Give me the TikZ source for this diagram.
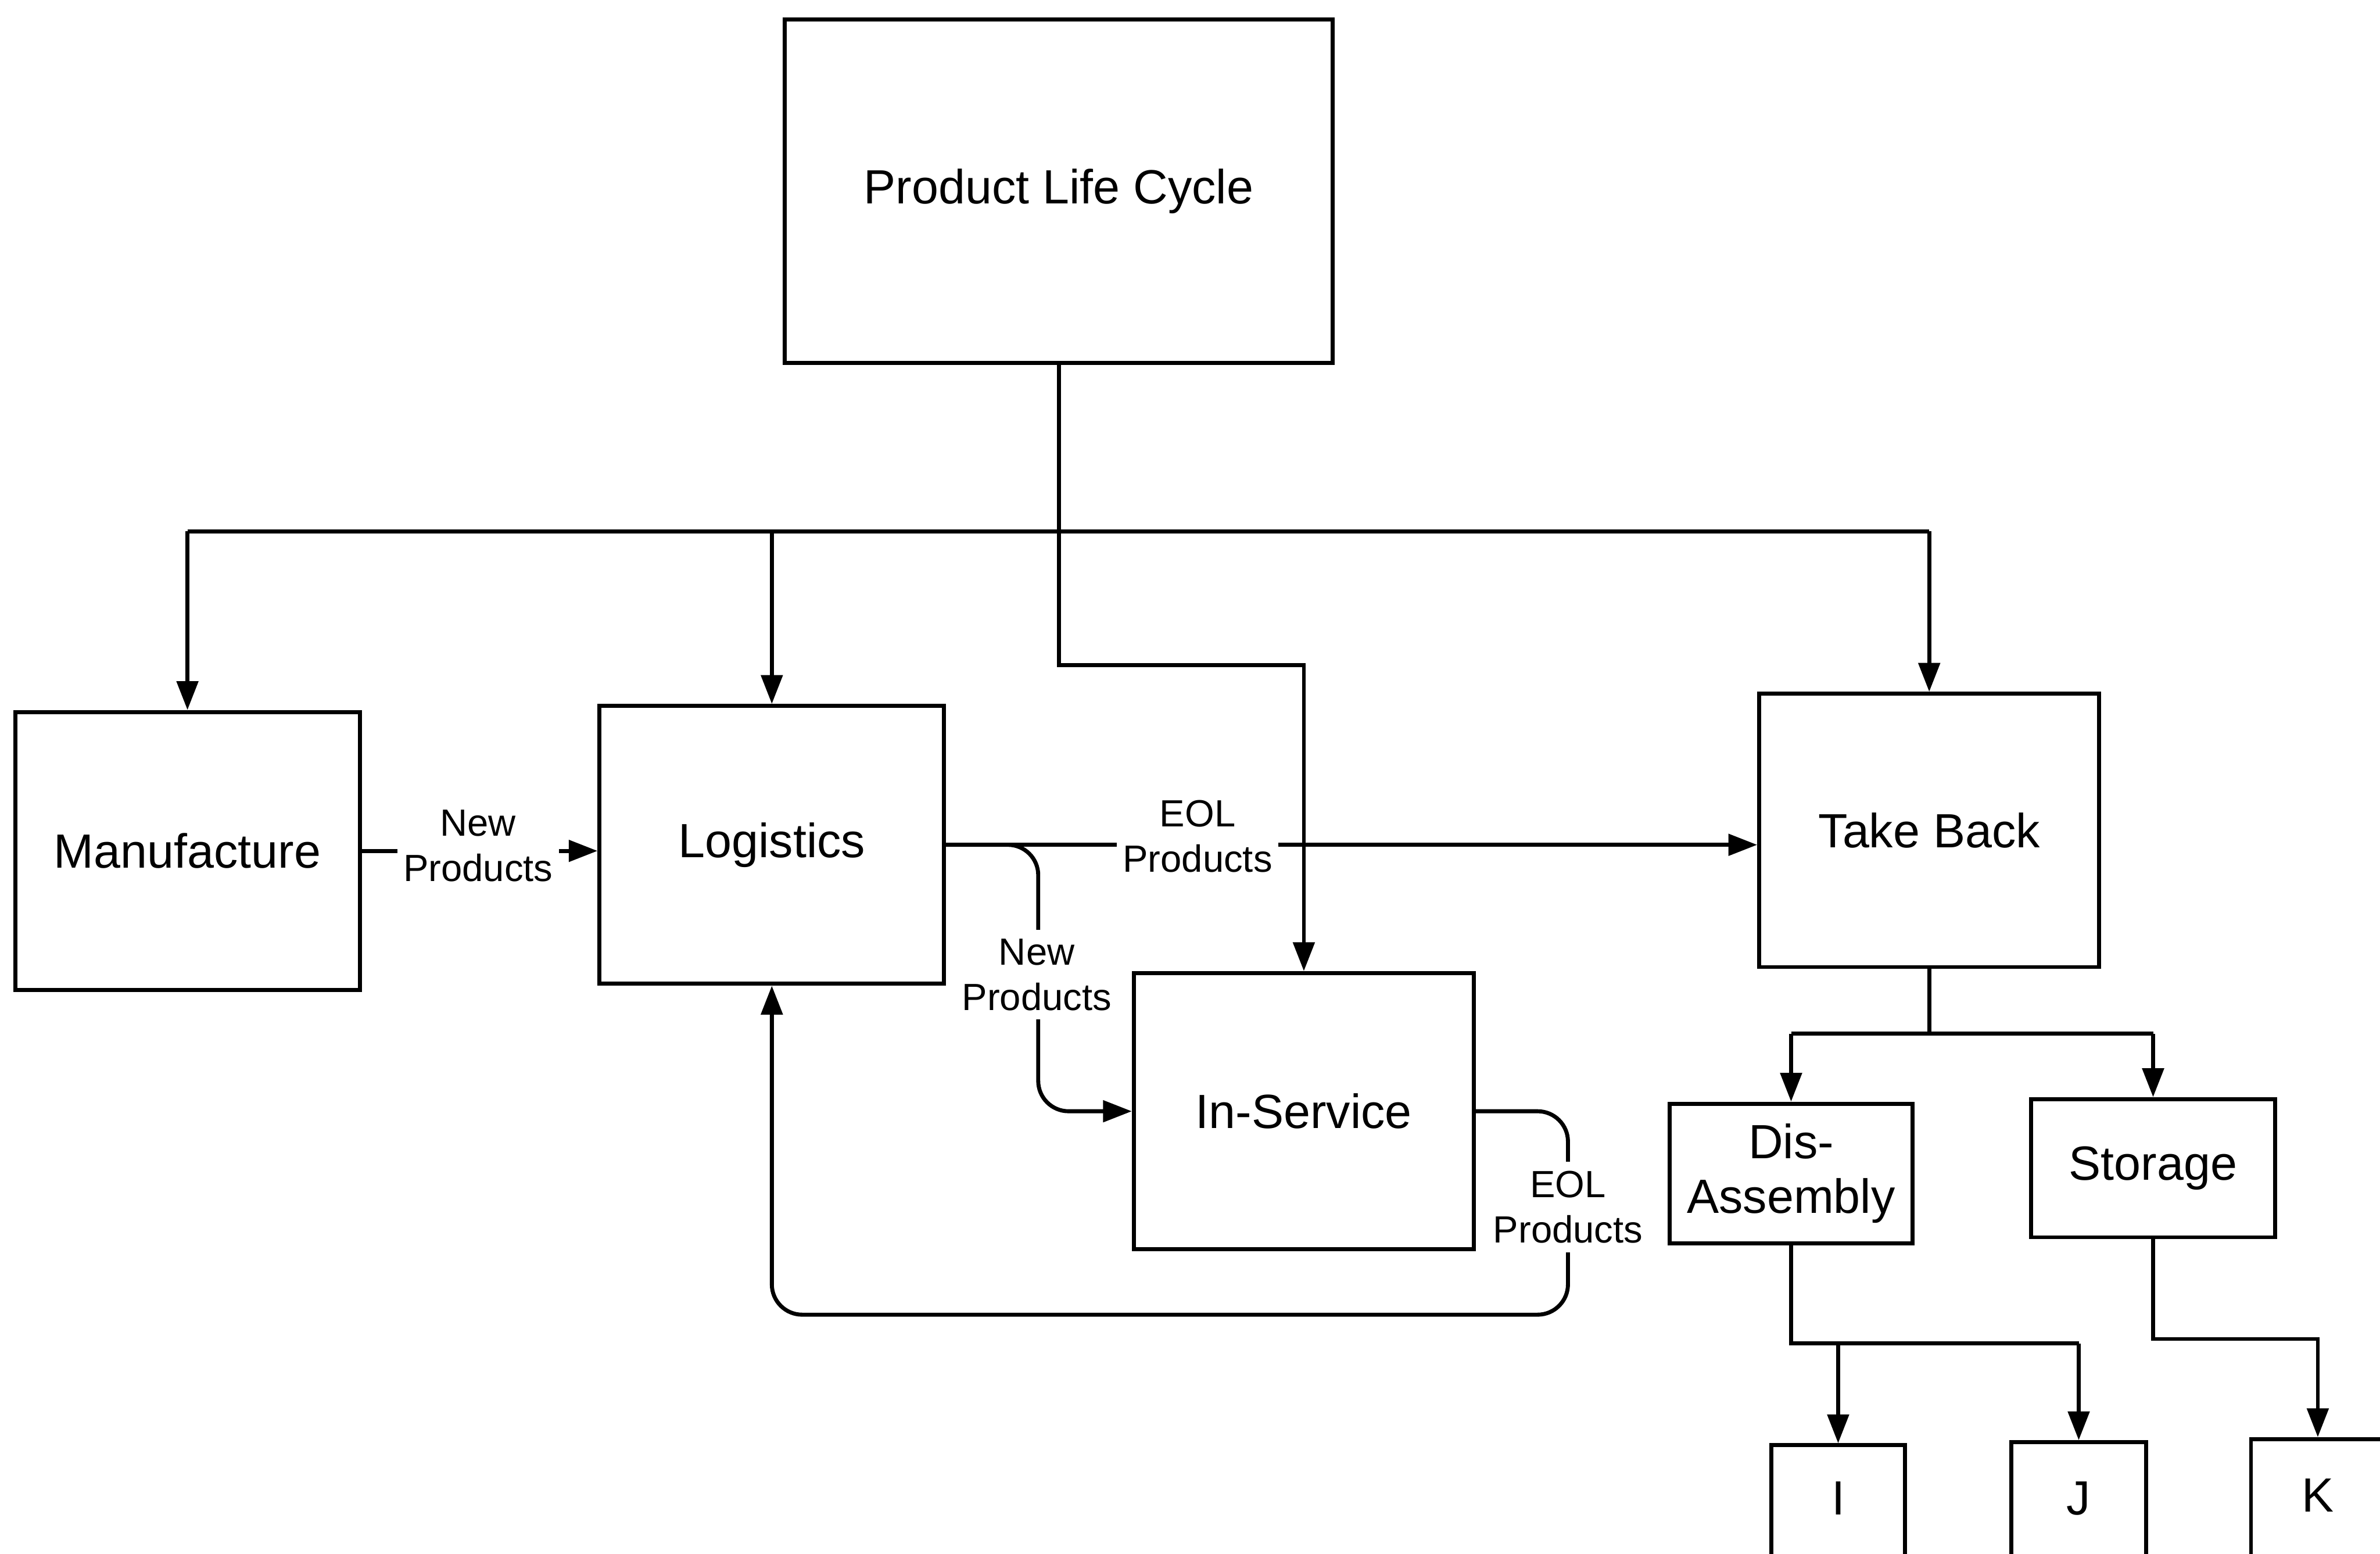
\documentclass[tikz,border=0pt]{standalone}
\usepackage{fontspec}
\setmainfont{Liberation Sans}
\usetikzlibrary{arrows.meta,calc}
\begin{document}
\begin{tikzpicture}[
  line width=0.75pt,
  box/.style={draw, rectangle, inner sep=0pt, font=\fontsize{9}{10.2}\selectfont, align=center},
  txt/.style={inner sep=0pt, font=\fontsize{9}{10.2}\selectfont},
  lbl/.style={fill=white, inner sep=0.04cm, align=center, font=\fontsize{7.1}{8.5}\selectfont},
  arr/.style={-{Triangle[length=0.19cm,width=0.14cm]}},
]
\useasboundingbox (0,0) rectangle (15.68,-10.236);
\clip (0,0) rectangle (15.68,-10.236);

% boxes
\node[box, minimum width=3.61cm, minimum height=2.26cm] (plc) at (6.975,-1.26) {Product Life Cycle};
\node[box, minimum width=2.27cm, minimum height=1.83cm] (man) at (1.235,-5.605) {Manufacture};
\node[box, minimum width=2.27cm, minimum height=1.83cm] (log) at (5.085,-5.565) {Logistics};
\node[box, minimum width=2.24cm, minimum height=1.80cm] (tb) at (12.71,-5.47) {Take Back};
\node[box, minimum width=2.24cm, minimum height=1.82cm] (ins) at (8.59,-7.32) {In-Service};
\node[box, minimum width=1.60cm, minimum height=0.92cm] (dis) at (11.80,-7.73) {Dis-\\Assembly};
\node[box, minimum width=1.61cm, minimum height=0.91cm] (sto) at (14.185,-7.695) {Storage};
\node[box, minimum width=0.88cm, minimum height=1.0cm] (bi) at (12.11,-10.02) {};
\node[box, minimum width=0.89cm, minimum height=1.0cm] (bj) at (13.695,-10.00) {};
\node[box, minimum width=0.88cm, minimum height=1.0cm] (bk) at (15.27,-9.98) {};
\node[txt] (ti) at (12.11,-9.87) {I};
\node[txt] (tj) at (13.695,-9.87) {J};
\node[txt] (tk) at (15.27,-9.85) {K};

% bus from Product Life Cycle
\coordinate (busy) at (0,-3.50);
\draw (man.north |- busy) -- (tb.north |- busy);
\draw[arr] (man.north |- busy) -- (man.north);
\draw[arr] (log.north |- busy) -- (log.north);
\draw[arr] (tb.north |- busy) -- (tb.north);
\draw[arr] (plc.south) -- (plc.south |- 0,-4.38) -| (ins.north);

% Manufacture -> Logistics
\draw[arr] (man.east) -- (man.east -| log.west);
\node[lbl] (l1) at (3.15,-5.57) {New\\Products};

% Logistics -> Take Back
\draw[arr] (log.east) -- (log.east -| tb.west);
\node[lbl] (l2) at (7.89,-5.51) {EOL\\Products};

% Logistics -> In-Service (new products)
\draw[arr, rounded corners=0.2cm] (log.east) -| (6.84,-7.32) -- (ins.west);
\node[lbl, inner sep=0.06cm] (l3) at (6.83,-6.42) {New\\Products};

% In-Service -> Logistics (EOL loop)
\draw[arr, rounded corners=0.2cm] (ins.east) -| (10.33,-8.66) -| (log.south);
\node[lbl, inner sep=0.06cm] (l4) at (10.33,-7.95) {EOL\\Products};

% Take Back -> Dis-Assembly / Storage
\coordinate (tby) at (0,-6.81);
\draw (tb.south) -- (tb.south |- tby);
\draw (dis.north |- tby) -- (sto.north |- tby);
\draw[arr] (dis.north |- tby) -- (dis.north);
\draw[arr] (sto.north |- tby) -- (sto.north);

% Dis-Assembly -> I, J
\coordinate (dy) at (0,-8.85);
\draw (dis.south) -- (dis.south |- dy) -- (bj.north |- dy);
\draw[arr] (bi.north |- dy) -- (bi.north);
\draw[arr] (bj.north |- dy) -- (bj.north);

% Storage -> K
\draw[arr] (sto.south) -- (sto.south |- 0,-8.82) -| (bk.north);
\end{tikzpicture}
\end{document}
